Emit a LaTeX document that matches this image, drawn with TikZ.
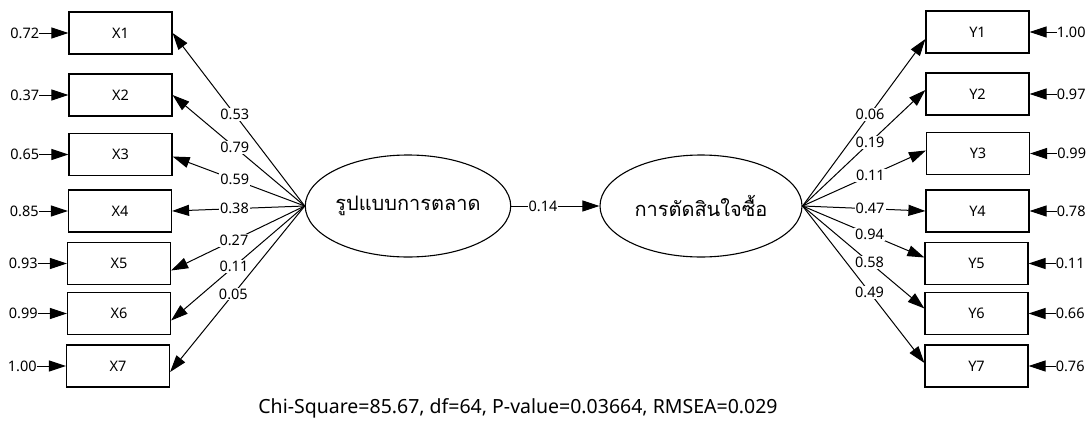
\documentclass[tikz,border=0pt]{standalone}
\usepackage{fontspec}
\setmainfont{Noto Sans}
\newfontfamily\thaifont[Script=Thai]{Loma}
\usetikzlibrary{arrows.meta,shapes.geometric}
\tikzset{
  obs/.style={draw, line width=1.2pt, minimum width=103pt, minimum height=42pt, inner sep=0pt, font=\fontsize{14.5}{16}\selectfont},
  lat/.style={draw, ellipse, line width=1.1pt, inner sep=0pt, font=\thaifont\fontsize{20}{23}\selectfont},
  arr/.style={line width=1pt, -{Triangle[length=17pt,width=11pt]}},
  lab/.style={fill=white, inner sep=1pt, font=\fontsize{14.5}{16}\selectfont},
  res/.style={inner sep=0pt, font=\fontsize{14.5}{16}\selectfont},
}
\begin{document}
\begin{tikzpicture}[x=1pt,y=-1pt]
\useasboundingbox[fill=white] (0,0) rectangle (1086,423);
% observed X
\node[obs] (X1) at (120.5,33) {X1};
\node[obs] (X2) at (120.5,95) {X2};
\node[obs] (X3) at (120.5,154.5) {X3};
\node[obs] (X4) at (120,211) {X4};
\node[obs] (X5) at (119,263.5) {X5};
\node[obs] (X6) at (119,313.5) {X6};
\node[obs] (X7) at (118,366) {X7};
% observed Y
\node[obs] (Y1) at (977.5,32) {Y1};
\node[obs] (Y2) at (977.5,94) {Y2};
\node[obs] (Y3) at (978,153.5) {Y3};
\node[obs] (Y4) at (977.5,211) {Y4};
\node[obs] (Y5) at (976.5,263.5) {Y5};
\node[obs] (Y6) at (976.5,313.5) {Y6};
\node[obs] (Y7) at (976.5,366) {Y7};
% latent
\node[lat, minimum width=204pt, minimum height=102pt] (E1) at (408,206) {รูปแบบการตลาด};
\node[lat, minimum width=202pt, minimum height=102pt] (E2) at (701,206) {การตัดสินใจซื้อ};
\draw[arr] (E1.east) -- node[lab,pos=0.36]{0.14} (E2.west);
% left residuals
\foreach \i/\v in {1/0.72,2/0.37,3/0.65,4/0.85,5/0.93,6/0.99,7/1.00}{
  \node[res, anchor=east] (ex\i) at ([xshift=-29pt]X\i.west) {\v};
  \draw[arr] (ex\i.east) -- (X\i.west);
}
% right residuals
\foreach \i/\v in {1/1.00,2/0.97,3/0.99,4/0.78,5/0.11,6/0.66,7/0.76}{
  \node[res, anchor=west] (ey\i) at ([xshift=27pt]Y\i.east) {\v};
  \draw[arr] (ey\i.west) -- (Y\i.east);
}
% loadings X
\draw[arr] (E1.west) -- node[lab,pos=0.53]{0.53} (X1.east);
\draw[arr] (E1.west) -- node[lab,pos=0.53]{0.79} (X2.east);
\draw[arr] (E1.west) -- node[lab,pos=0.53]{0.59} ([yshift=-2pt]X3.east);
\draw[arr] (E1.west) -- node[lab,pos=0.53]{0.38} (X4.east);
\draw[arr] (E1.west) -- node[lab,pos=0.53]{0.27} ([yshift=-7pt]X5.east);
\draw[arr] (E1.west) -- node[lab,pos=0.53]{0.11} ([yshift=-7pt]X6.east);
\draw[arr] (E1.west) -- node[lab,pos=0.53]{0.05} ([yshift=-6pt]X7.east);
% loadings Y
\draw[arr] (E2.east) -- node[lab,pos=0.55]{0.06} ([yshift=-7pt]Y1.west);
\draw[arr] (E2.east) -- node[lab,pos=0.55]{0.19} ([yshift=4pt]Y2.west);
\draw[arr] (E2.east) -- node[lab,pos=0.55]{0.11} ([yshift=3pt]Y3.west);
\draw[arr] (E2.east) -- node[lab,pos=0.55]{0.47} (Y4.west);
\draw[arr] (E2.east) -- node[lab,pos=0.55]{0.94} ([yshift=6pt]Y5.west);
\draw[arr] (E2.east) -- node[lab,pos=0.55]{0.58} ([yshift=5pt]Y6.west);
\draw[arr] (E2.east) -- node[lab,pos=0.55]{0.49} ([yshift=3pt]Y7.west);
% fit statistics
\node[font=\fontsize{19.5}{22}\selectfont] (fit) at (518,408) {Chi-Square=85.67, df=64, P-value=0.03664, RMSEA=0.029};
\end{tikzpicture}
\end{document}
